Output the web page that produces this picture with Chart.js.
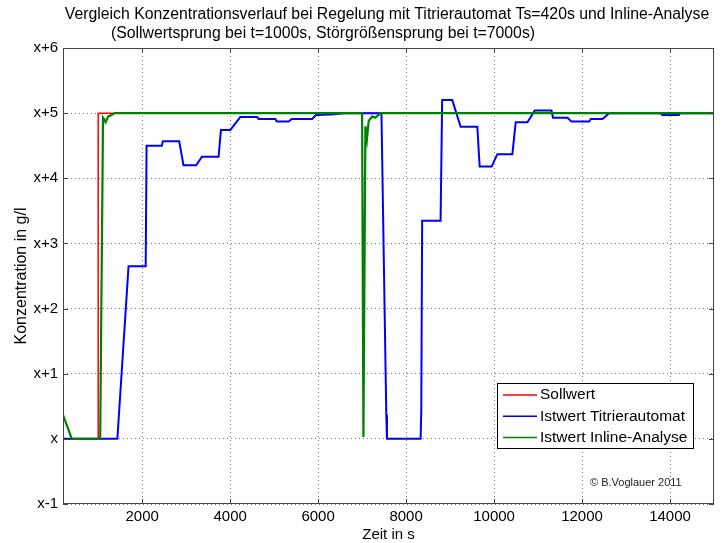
<!DOCTYPE html>
<html>
<head>
<meta charset="utf-8">
<script src="https://cdn.jsdelivr.net/npm/chart.js@4.4.0/dist/chart.umd.min.js"></script>
<style>
  html, body { margin: 0; padding: 0; background: #fff; }
  canvas { display: block; }
</style>
</head>
<body>
<canvas id="c" width="725" height="543"></canvas>
<script>
// ---- data ----
const titleLine1 = "Vergleich Konzentrationsverlauf bei Regelung mit Titrierautomat Ts=420s und Inline-Analyse";
const titleLine2 = "(Sollwertsprung bei t=1000s, Störgrößensprung bei t=7000s)";
const xAxisTitle = "Zeit in s";
const yAxisTitle = "Konzentration in g/l";
const copyrightText = "© B.Voglauer 2011";

const xTickValues = [2000, 4000, 6000, 8000, 10000, 12000, 14000];
const xTickLabels = ["2000", "4000", "6000", "8000", "10000", "12000", "14000"];
const yTickValues = [-1, 0, 1, 2, 3, 4, 5, 6];
const yTickLabels = ["x-1", "x", "x+1", "x+2", "x+3", "x+4", "x+5", "x+6"];

const seriesNames = ["Sollwert", "Istwert Titrierautomat", "Istwert Inline-Analyse"];

const sollT = [200, 1000, 1000, 15000];
const sollY = [0, 0, 5, 5];

const titrT = [200, 1436, 1690, 2080, 2100, 2447, 2470, 2841, 2939, 3228, 3358, 3737, 3790, 4002, 4230, 4610, 4650, 5027, 5060, 5330, 5400, 5863, 5950, 6300, 6600, 7440, 7535, 7550, 7565, 8330, 8345, 8365, 8784, 8820, 9050, 9240, 9620, 9672, 9945, 10075, 10416, 10492, 10758, 10925, 11305, 11340, 11669, 11760, 12161, 12200, 12465, 12616, 13800, 13820, 14200, 14230, 15000];
const titrY = [0, 0, 2.65, 2.65, 4.5, 4.5, 4.57, 4.57, 4.2, 4.2, 4.33, 4.33, 4.74, 4.74, 4.94, 4.94, 4.91, 4.91, 4.87, 4.87, 4.91, 4.91, 4.97, 4.98, 5, 5, 1.0, 0.37, 0, 0, 0.42, 3.35, 3.35, 5.2, 5.2, 4.79, 4.79, 4.18, 4.18, 4.37, 4.37, 4.86, 4.86, 5.04, 5.04, 4.93, 4.93, 4.87, 4.87, 4.91, 4.91, 5, 5, 4.97, 4.97, 5, 5];

const inlineT = [200, 400, 1045, 1110, 1140, 1170, 1230, 1300, 1380, 7000, 7030, 7075, 7110, 7150, 7230, 7300, 7420, 15000];
const inlineY = [0.37, 0, 0, 4.93, 4.9, 4.86, 4.95, 4.97, 5, 5, 0.03, 4.8, 4.6, 4.88, 4.95, 4.93, 5, 5];

const seriesColors = ["#ff0000", "#0000ff", "#008000"];

function pts(ts, ys) { return ts.map((t, i) => ({ x: t, y: ys[i] })); }

const FONT = "'Liberation Sans', Arial, Helvetica, sans-serif";
Chart.defaults.color = "#000";
Chart.defaults.font.family = FONT;

const decor = {
  id: "decor",
  afterDatasetsDraw(chart) {
    const ctx = chart.ctx;
    const a = chart.chartArea;
    const xs = chart.scales.x, ys = chart.scales.y;
    ctx.save();
    ctx.strokeStyle = "#444";
    ctx.lineWidth = 1;
    ctx.setLineDash([]);
    ctx.strokeRect(a.left + 0.5, a.top + 0.5, a.right - a.left - 1, a.bottom - a.top - 1);
    ctx.beginPath();
    const tl = 5;
    xTickValues.forEach(v => {
      const px = Math.round(xs.getPixelForValue(v)) + 0.5;
      ctx.moveTo(px, a.bottom); ctx.lineTo(px, a.bottom - tl);
      ctx.moveTo(px, a.top); ctx.lineTo(px, a.top + tl);
    });
    yTickValues.forEach(v => {
      const py = Math.round(ys.getPixelForValue(v)) + 0.5;
      ctx.moveTo(a.left, py); ctx.lineTo(a.left + tl, py);
      ctx.moveTo(a.right, py); ctx.lineTo(a.right - tl, py);
    });
    ctx.stroke();
    ctx.restore();
  },
  afterDraw(chart) {
    const ctx = chart.ctx;
    const a = chart.chartArea;
    ctx.save();
    ctx.fillStyle = "#000";
    ctx.font = "15.8px " + FONT;
    ctx.textAlign = "center";
    ctx.textBaseline = "middle";
    ctx.fillText(titleLine1, 387, 15);
    ctx.fillText(titleLine2, 323, 34);
    const lx = a.right - 217, ly = a.bottom - 121, lw = 196, lh = 65;
    ctx.fillStyle = "#fff";
    ctx.fillRect(lx, ly, lw, lh);
    ctx.strokeStyle = "#000";
    ctx.lineWidth = 1;
    ctx.strokeRect(lx + 0.5, ly + 0.5, lw, lh);
    ctx.textAlign = "left";
    ctx.font = "15.5px " + FONT;
    chart.data.datasets.forEach((ds, i) => {
      const cy = ly + 12 + i * 21.3;
      ctx.strokeStyle = ds.borderColor;
      ctx.lineWidth = 1.5;
      ctx.beginPath();
      ctx.moveTo(lx + 6, cy); ctx.lineTo(lx + 40, cy);
      ctx.stroke();
      ctx.fillStyle = "#000";
      ctx.fillText(ds.label, lx + 43, cy);
    });
    ctx.font = "11px " + FONT;
    ctx.fillStyle = "#222";
    ctx.fillText(copyrightText, 590, 483);
    ctx.restore();
  }
};

new Chart(document.getElementById("c"), {
  type: "line",
  data: {
    datasets: [
      { label: seriesNames[0], data: pts(sollT, sollY), borderColor: seriesColors[0], borderWidth: 1.5, order: 2 },
      { label: seriesNames[1], data: pts(titrT, titrY), borderColor: seriesColors[1], borderWidth: 2, order: 1 },
      { label: seriesNames[2], data: pts(inlineT, inlineY), borderColor: seriesColors[2], borderWidth: 2.2, order: 0 }
    ]
  },
  options: {
    responsive: false,
    animation: false,
    devicePixelRatio: 1,
    elements: { point: { radius: 0 }, line: { tension: 0, fill: false } },
    layout: { padding: { top: 48, right: 11, left: 0, bottom: 0 } },
    plugins: { legend: { display: false }, title: { display: false }, tooltip: { enabled: false } },
    scales: {
      x: {
        type: "linear",
        min: 200, max: 15000,
        afterBuildTicks: s => { s.ticks = xTickValues.map(v => ({ value: v })); },
        afterFit: s => { s.height = 39; },
        ticks: { font: { size: 15 }, padding: 4, maxRotation: 0, color: "#000",
                 callback: v => xTickLabels[xTickValues.indexOf(v)] },
        grid: { color: "#777", drawTicks: false, lineWidth: 1 },
        border: { display: false, dash: [1, 3] },
        title: { display: true, text: xAxisTitle, font: { size: 15 }, padding: { top: 0, bottom: -1 }, color: "#000" }
      },
      y: {
        type: "linear",
        min: -1, max: 6,
        afterBuildTicks: s => { s.ticks = yTickValues.map(v => ({ value: v })); },
        afterFit: s => { s.width = 63; },
        ticks: { font: { size: 15 }, padding: 5, color: "#000",
                 callback: v => yTickLabels[yTickValues.indexOf(v)] },
        grid: { color: "#777", drawTicks: false, lineWidth: 1 },
        border: { display: false, dash: [1, 3] },
        title: { display: true, text: yAxisTitle, font: { size: 16 }, padding: { top: 12, bottom: 0 }, color: "#000" }
      }
    }
  },
  plugins: [decor]
});
</script>
</body>
</html>
